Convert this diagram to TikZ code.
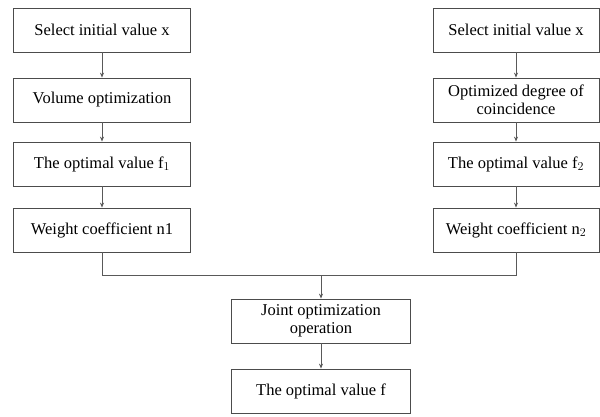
\documentclass[tikz,border=0pt]{standalone}
\usepackage{fontspec}
\setmainfont{Liberation Serif}
\usetikzlibrary{arrows.meta}
\tikzset{
	stepbox/.style={draw=black!70,line width=0.8pt,minimum width=177pt,minimum height=44pt,align=center,font=\fontsize{16.5pt}{18.5pt}\selectfont,inner sep=2pt},
	link/.style={draw=black!65,line width=0.8pt,-{Stealth[length=5pt,width=4pt]}}
}
\begin{document}
\begin{tikzpicture}[x=1pt,y=-1pt]
			\useasboundingbox (0,0) rectangle (600,416);
			% left branch
			\node[stepbox] (sel1) at (102,30) {Select initial value x};
			\node[stepbox] (vol) at (102,100) {Volume optimization};
			\node[stepbox] (opt1) at (102,164) {The optimal value f$_1$};
			\node[stepbox] (wc1) at (102,230) {Weight coefficient n1};
			% right branch
			\node[stepbox,minimum width=166pt] (sel2) at (516,30) {Select initial value x};
			\node[stepbox,minimum width=166pt] (coin) at (516,100) {Optimized degree of\\coincidence};
			\node[stepbox,minimum width=166pt] (opt2) at (516,164) {The optimal value f$_2$};
			\node[stepbox,minimum width=166pt] (wc2) at (516,230) {Weight coefficient n$_2$};
			% joint part
			\coordinate (jl) at (102,275);
			\coordinate (jr) at (516,275);
			\coordinate (jm) at (321,275);
			\node[stepbox,minimum width=179pt] (joint) at (321,321) {Joint optimization\\operation};
			\node[stepbox,minimum width=179pt] (fin) at (321,391) {The optimal value f};
			\draw[link] (sel1) -- (vol);
			\draw[link] (vol) -- (opt1);
			\draw[link] (opt1) -- (wc1);
			\draw[link] (sel2) -- (coin);
			\draw[link] (coin) -- (opt2);
			\draw[link] (opt2) -- (wc2);
			\draw[draw=black!65,line width=0.8pt] (wc1) -- (jl) -- (jr) -- (wc2);
			\draw[link] (jm) -- (joint);
			\draw[link] (joint) -- (fin);
		\end{tikzpicture}
\end{document}
